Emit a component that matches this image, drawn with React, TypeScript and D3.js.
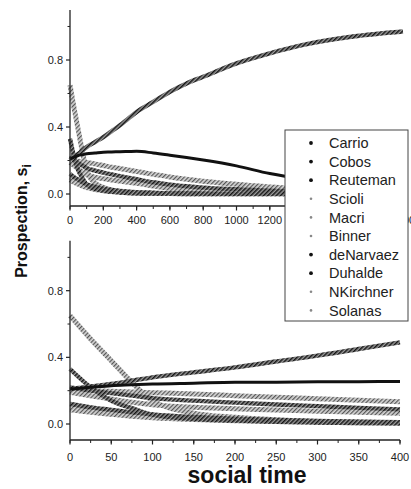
import React, { useEffect } from "react";
import * as d3 from "d3";

// social time sample points
const TIMES = [0, 25, 50, 75, 100, 150, 200, 250, 300, 350, 400, 500, 600, 700, 800, 1000, 1200, 1400, 1700, 2000];

const NAMES = ["Carrio", "Cobos", "Reuteman", "Scioli", "Macri", "Binner", "deNarvaez", "Duhalde", "NKirchner", "Solanas"];
const KIND = ["black", "black", "solid", "gray", "gray", "gray", "black", "black", "gray", "gray"];

const CARRIO = [0.33, 0.22, 0.14, 0.095, 0.055, 0.03, 0.02, 0.013, 0.009, 0.006, 0.004, 0.003, 0.002, 0.002, 0.001, 0.001, 0.001, 0.001, 0.001, 0.001];
const COBOS = [0.21, 0.225, 0.24, 0.26, 0.28, 0.31, 0.34, 0.375, 0.41, 0.45, 0.49, 0.55, 0.61, 0.66, 0.7, 0.78, 0.84, 0.89, 0.94, 0.97];
const REUTEMAN = [0.21, 0.22, 0.23, 0.235, 0.24, 0.245, 0.25, 0.251, 0.253, 0.254, 0.255, 0.245, 0.232, 0.218, 0.203, 0.168, 0.122, 0.09, 0.06, 0.04];
const SCIOLI = [0.65, 0.51, 0.38, 0.25, 0.14, 0.065, 0.04, 0.025, 0.015, 0.01, 0.007, 0.004, 0.003, 0.002, 0.002, 0.001, 0.001, 0.001, 0.001, 0.001];
const MACRI = [0.2, 0.2, 0.196, 0.192, 0.188, 0.18, 0.17, 0.16, 0.152, 0.143, 0.134, 0.118, 0.102, 0.088, 0.076, 0.058, 0.042, 0.032, 0.022, 0.015];
const BINNER = [0.19, 0.17, 0.15, 0.13, 0.115, 0.1, 0.092, 0.084, 0.077, 0.07, 0.064, 0.047, 0.033, 0.022, 0.016, 0.009, 0.005, 0.003, 0.002, 0.001];
const DENARVAEZ = [0.22, 0.2, 0.185, 0.17, 0.155, 0.14, 0.128, 0.117, 0.107, 0.097, 0.088, 0.07, 0.056, 0.046, 0.038, 0.028, 0.02, 0.015, 0.01, 0.008];
const DUHALDE = [0.12, 0.1, 0.085, 0.07, 0.058, 0.042, 0.032, 0.024, 0.018, 0.014, 0.011, 0.007, 0.004, 0.003, 0.002, 0.001, 0.001, 0.001, 0.001, 0.001];
const NKIRCHNER = [0.1, 0.085, 0.07, 0.058, 0.048, 0.035, 0.026, 0.019, 0.014, 0.01, 0.008, 0.005, 0.003, 0.002, 0.002, 0.001, 0.001, 0.001, 0.001, 0.001];
const SOLANAS = [0.085, 0.07, 0.058, 0.047, 0.038, 0.027, 0.02, 0.015, 0.011, 0.008, 0.006, 0.004, 0.003, 0.002, 0.001, 0.001, 0.001, 0.001, 0.001, 0.001];

const SERIES = [CARRIO, COBOS, REUTEMAN, SCIOLI, MACRI, BINNER, DENARVAEZ, DUHALDE, NKIRCHNER, SOLANAS];

const TOP_X_TICKS = [0, 200, 400, 600, 800, 1000, 1200, 1400, 1600, 1800, 2000];
const TOP_X_LABELS = [0, 200, 400, 600, 800, 1000, 1200, 2000];
const BOT_X_TICKS = [0, 50, 100, 150, 200, 250, 300, 350, 400];
const Y_TICKS = [0.0, 0.4, 0.8];
const Y_MINOR = [0.2, 0.6, 1.0];

const FONT = "'Liberation Sans', Arial, sans-serif";

type PanelProps = {
  xMax: number;
  xRange: [number, number];
  yDomain: [number, number];
  yRange: [number, number];
  xTicks: number[];
  xLabels: number[];
  minorStep: number;
  labelY: number;
};

function Panel({ xMax, xRange, yDomain, yRange, xTicks, xLabels, minorStep, labelY }: PanelProps) {
  const x = d3.scaleLinear().domain([0, xMax]).range(xRange);
  const y = d3.scaleLinear().domain(yDomain).range(yRange);
  const line = d3
    .line<[number, number]>()
    .x((d) => x(d[0]))
    .y((d) => y(d[1]))
    .curve(d3.curveMonotoneX);
  const minor = d3.range(0, xMax + 0.001, minorStep);
  const axisY = yRange[0];
  const axisX = xRange[0];
  const order = [3, 4, 5, 8, 9, 7, 6, 0, 1, 2];
  return (
    <g>
      {order.map((i) => {
        const pts: [number, number][] = TIMES.filter((t) => t <= xMax).map((t, k) => [t, SERIES[i][k]]);
        const d = line(pts) || "";
        const kind = KIND[i];
        if (kind === "solid") {
          return <path key={i} d={d} fill="none" stroke="#111" strokeWidth={3} />;
        }
        return (
          <path
            key={i}
            d={d}
            fill="none"
            stroke={kind === "black" ? "url(#hatchDark)" : "url(#hatchLight)"}
            strokeWidth={kind === "black" ? 4.4 : 5}
          />
        );
      })}
      {/* axes */}
      <line x1={axisX} x2={axisX} y1={yRange[1]} y2={axisY} stroke="#222" strokeWidth={1.3} />
      <line x1={axisX} x2={xRange[1]} y1={axisY} y2={axisY} stroke="#222" strokeWidth={1.3} />
      {Y_TICKS.map((v) => (
        <g key={v}>
          <line x1={axisX - 4} x2={axisX} y1={y(v)} y2={y(v)} stroke="#222" strokeWidth={1.2} />
          <text x={axisX - 7} y={y(v)} dy="0.35em" textAnchor="end" fontFamily={FONT} fontSize={11} fill="#222">
            {v.toFixed(1)}
          </text>
        </g>
      ))}
      {Y_MINOR.map((v) => (
        <line key={v} x1={axisX - 2.5} x2={axisX} y1={y(v)} y2={y(v)} stroke="#222" strokeWidth={1} />
      ))}
      {minor.map((t) => (
        <line key={t} x1={x(t)} x2={x(t)} y1={axisY} y2={axisY + 3} stroke="#222" strokeWidth={1} />
      ))}
      {xTicks.map((t) => (
        <line key={t} x1={x(t)} x2={x(t)} y1={axisY} y2={axisY + 4.5} stroke="#222" strokeWidth={1.2} />
      ))}
      {xLabels.map((t) => (
        <text key={t} x={x(t)} y={labelY} dy="0.35em" textAnchor="middle" fontFamily={FONT} fontSize={11} fill="#222">
          {t}
        </text>
      ))}
    </g>
  );
}

export default function App() {
  useEffect(() => {
    document.body.style.margin = "0";
  }, []);
  const legendX = 285;
  const legendY = 130;
  const legendW = 123;
  const legendH = 191;
  const rowH = 18.6;
  return (
    <svg width={411} height={489} style={{ position: "absolute", left: 0, top: 0, background: "#fff" }}>
      <defs>
        <pattern id="hatchDark" width={3} height={3} patternUnits="userSpaceOnUse" patternTransform="rotate(45)">
          <rect width={3} height={3} fill="#9a9a9a" />
          <rect width={1.5} height={3} fill="#151515" />
        </pattern>
        <pattern id="hatchLight" width={3} height={3} patternUnits="userSpaceOnUse" patternTransform="rotate(45)">
          <rect width={3} height={3} fill="#d4d4d4" />
          <rect width={1.2} height={3} fill="#555" />
        </pattern>
      </defs>
      <rect width={411} height={489} fill="#fff" />
      <Panel xMax={2000} xRange={[70, 403]} yDomain={[-0.0716, 1.0985]} yRange={[206, 10]} xTicks={TOP_X_TICKS} xLabels={TOP_X_LABELS} minorStep={100} labelY={220} />
      <Panel xMax={400} xRange={[70, 400]} yDomain={[-0.096, 1.1]} yRange={[440, 240.7]} xTicks={BOT_X_TICKS} xLabels={BOT_X_TICKS} minorStep={25} labelY={457} />
      {/* legend */}
      <rect x={legendX} y={legendY} width={legendW} height={legendH} fill="#fff" stroke="#444" strokeWidth={1} />
      {NAMES.map((n, i) => {
        const cy = legendY + 13 + i * rowH;
        const dark = KIND[i] !== "gray";
        return (
          <g key={n}>
            <circle cx={311} cy={cy} r={dark ? 1.9 : 1.3} fill={dark ? "#111" : "#888"} />
            <text x={329} y={cy} dy="0.36em" fontFamily={FONT} fontSize={14.5} fill="#222">
              {n}
            </text>
          </g>
        );
      })}
      {/* axis titles */}
      <text
        transform="translate(27,221) rotate(-90)"
        textAnchor="middle"
        fontFamily={FONT}
        fontWeight="bold"
        fontSize={16}
        fill="#111"
      >
        Prospection, s<tspan fontSize={12} dy="4">i</tspan>
      </text>
      <text x={247} y={483} textAnchor="middle" fontFamily={FONT} fontWeight="bold" fontSize={23} fill="#111">
        social time
      </text>
    </svg>
  );
}
